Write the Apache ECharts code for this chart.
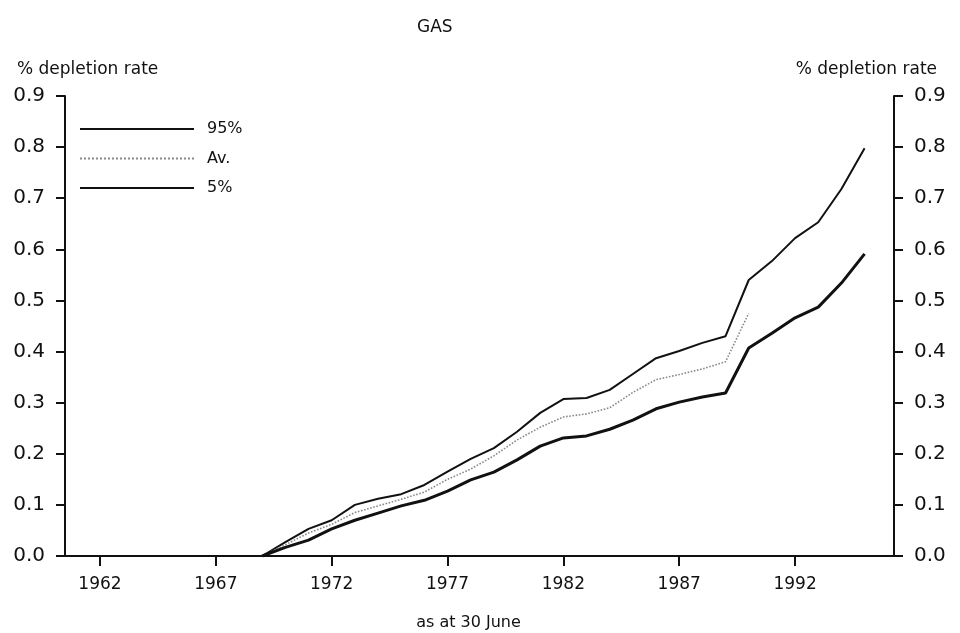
<!DOCTYPE html>
<html>
<head>
<meta charset="utf-8">
<script src="https://cdn.jsdelivr.net/npm/echarts@6/dist/echarts.min.js"></script>
<style>
  html, body { margin: 0; padding: 0; background: #fff; }
  #chart { width: 960px; height: 633px; }
</style>
</head>
<body>
<div id="chart"></div>
<script>
// Gas depletion rate, % per year, as at 30 June
const years = [1969, 1970, 1971, 1972, 1973, 1974, 1975, 1976, 1977, 1978,
               1979, 1980, 1981, 1982, 1983, 1984, 1985, 1986, 1987, 1988,
               1989, 1990, 1991, 1992, 1993, 1994, 1995];
const upper95 = [0, 0.027, 0.053, 0.070, 0.100, 0.112, 0.121, 0.139, 0.165, 0.190,
                 0.211, 0.243, 0.280, 0.307, 0.309, 0.325, 0.356, 0.387, 0.401, 0.417,
                 0.430, 0.540, 0.577, 0.622, 0.653, 0.718, 0.798];
const average = [0, 0.022, 0.045, 0.062, 0.085, 0.098, 0.111, 0.125, 0.150, 0.170,
                 0.196, 0.227, 0.252, 0.272, 0.278, 0.290, 0.320, 0.345, 0.355, 0.366,
                 0.380, 0.475, null, null, null, null, null];
const lower5 = [0, 0.017, 0.031, 0.053, 0.070, 0.084, 0.098, 0.109, 0.127, 0.149,
                0.164, 0.188, 0.215, 0.231, 0.235, 0.248, 0.266, 0.288, 0.301, 0.311,
                0.319, 0.407, 0.436, 0.466, 0.487, 0.534, 0.591];
const yearTicks = [1962, 1967, 1972, 1977, 1982, 1987, 1992];
const seriesNames = ['95%', 'Av.', '5%'];

const pair = (vals) => years.map((y, i) => [y, vals[i]]);

const font = 'DejaVu Sans';
const ink = '#111';

const yAxisBase = {
  type: 'value',
  min: 0,
  max: 0.9,
  interval: 0.1,
  splitLine: { show: false },
  axisLine: { show: true, lineStyle: { color: ink, width: 2 } },
  axisTick: { show: true, inside: false, length: 9, lineStyle: { color: ink, width: 2 } },
  axisLabel: {
    margin: 20,
    color: ink,
    fontFamily: font,
    fontSize: 20,
    formatter: (v) => v.toFixed(1)
  }
};

const chart = echarts.init(document.getElementById('chart'), null, { renderer: 'canvas' });
chart.setOption({
  backgroundColor: '#fff',
  animation: false,
  title: [
    { text: 'GAS', left: 412, top: 14,
      textStyle: { fontFamily: font, fontSize: 17, fontWeight: 'normal', color: ink } },
    { text: '% depletion rate', left: 12, top: 56,
      textStyle: { fontFamily: font, fontSize: 17, fontWeight: 'normal', color: ink } },
    { text: '% depletion rate', right: 18, top: 56,
      textStyle: { fontFamily: font, fontSize: 17, fontWeight: 'normal', color: ink } }
  ],
  grid: { left: 65, right: 66, top: 96, bottom: 77, containLabel: false, outerBoundsMode: 'none' },
  legend: {
    data: seriesNames,
    orient: 'vertical',
    left: 74,
    top: 116,
    itemWidth: 114,
    itemHeight: 14,
    itemGap: 13.5,
    itemStyle: { opacity: 0 },
    textStyle: { fontFamily: font, fontSize: 16, color: ink, padding: [0, 0, 0, 8] }
  },
  xAxis: {
    type: 'value',
    min: 1960.49,
    max: 1996.27,
    splitLine: { show: false },
    axisLine: { show: true, onZero: false, lineStyle: { color: ink, width: 2 } },
    axisTick: { show: true, customValues: yearTicks, length: 10, lineStyle: { color: ink, width: 2 } },
    axisLabel: {
      customValues: yearTicks,
      margin: 20,
      color: ink,
      fontFamily: font,
      fontSize: 17,
      formatter: (v) => String(v)
    },
    name: 'as at 30 June',
    nameLocation: 'middle',
    nameGap: 59,
    nameTextStyle: { fontFamily: font, fontSize: 16, color: ink, padding: [0, 22, 0, 0] }
  },
  yAxis: [
    Object.assign({}, yAxisBase, { position: 'left' }),
    Object.assign({}, yAxisBase, { position: 'right' })
  ],
  series: [
    {
      name: seriesNames[0], type: 'line', yAxisIndex: 0, symbol: 'none',
      data: pair(upper95),
      lineStyle: { color: ink, width: 2 }, itemStyle: { color: ink }
    },
    {
      name: seriesNames[1], type: 'line', yAxisIndex: 0, symbol: 'none',
      data: pair(average), connectNulls: false,
      lineStyle: { color: '#8a8a8a', width: 1.6, type: 'dotted' }, itemStyle: { color: '#8a8a8a' }
    },
    {
      name: seriesNames[2], type: 'line', yAxisIndex: 0, symbol: 'none',
      data: pair(lower5),
      lineStyle: { color: ink, width: 3 }, itemStyle: { color: ink }
    }
  ]
});
</script>
</body>
</html>
